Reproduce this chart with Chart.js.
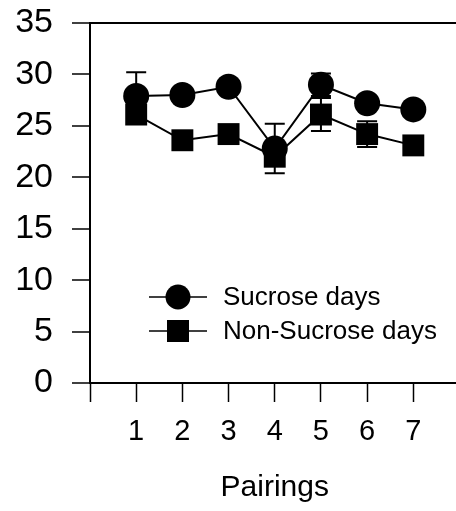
<!DOCTYPE html>
<html>
<head>
<meta charset="utf-8">
<script src="https://cdn.jsdelivr.net/npm/chart.js@4/dist/chart.umd.min.js"></script>
<style>
  html, body { margin: 0; padding: 0; background: #fff; overflow: hidden; }
  #wrap { width: 475px; height: 511px; }
</style>
</head>
<body>
<div id="wrap"><canvas id="chart" width="475" height="511"></canvas></div>
<script>
// --- Datos ---
const pairings = [1, 2, 3, 4, 5, 6, 7];
const sucrose = [27.9, 28.0, 28.8, 22.8, 29.0, 27.2, 26.6];
const nonSucrose = [26.1, 23.6, 24.2, 22.0, 26.1, 24.2, 23.1];
// error estándar (null = oculto bajo el marcador)
const sucroseErr = [2.3, null, null, 2.4, 1.1, null, null];
const nonSucroseErr = [null, null, null, null, 1.6, 1.25, null];
const yTicks = [0, 5, 10, 15, 20, 25, 30, 35];
const legendLabels = ["Sucrose days", "Non-Sucrose days"];

const FONT = "'Liberation Sans', Arial, Helvetica, sans-serif";
const INK = "#000";

const toPoints = vals => vals.map((v, i) => ({ x: pairings[i], y: v }));

// --- Barras de error ---
const errorBars = {
  id: "errorBars",
  beforeDatasetsDraw(chart) {
    const { ctx, scales: { x, y } } = chart;
    const sets = [[sucrose, sucroseErr], [nonSucrose, nonSucroseErr]];
    ctx.save();
    ctx.strokeStyle = INK;
    ctx.lineWidth = 2;
    for (const [vals, errs] of sets) {
      vals.forEach((v, i) => {
        const e = errs[i];
        if (e == null) return;
        const px = x.getPixelForValue(pairings[i]);
        const top = y.getPixelForValue(v + e);
        const bot = y.getPixelForValue(v - e);
        ctx.beginPath();
        ctx.moveTo(px, top); ctx.lineTo(px, bot);
        ctx.moveTo(px - 10, top); ctx.lineTo(px + 10, top);
        ctx.moveTo(px - 10, bot); ctx.lineTo(px + 10, bot);
        ctx.stroke();
      });
    }
    ctx.restore();
  },
};

// --- Leyenda dentro del área ---
const innerLegend = {
  id: "innerLegend",
  afterDatasetsDraw(chart) {
    const { ctx, chartArea } = chart;
    const mx = chartArea.left + 88;
    const rows = [chartArea.top + 274, chartArea.top + 308];
    ctx.save();
    ctx.strokeStyle = INK;
    ctx.fillStyle = INK;
    ctx.lineWidth = 1.5;
    ctx.font = `26px ${FONT}`;
    ctx.textBaseline = "middle";
    rows.forEach((ry, i) => {
      ctx.beginPath();
      ctx.moveTo(mx - 29, ry); ctx.lineTo(mx + 29, ry);
      ctx.stroke();
      if (i === 0) {
        ctx.beginPath();
        ctx.arc(mx, ry, 12.5, 0, Math.PI * 2);
        ctx.fill();
      } else {
        ctx.fillRect(mx - 11, ry - 11, 22, 22);
      }
      ctx.fillText(legendLabels[i], mx + 45, ry + 1);
    });
    ctx.restore();
  },
};

new Chart(document.getElementById("chart"), {
  type: "line",
  data: {
    datasets: [
      {
        label: legendLabels[0],
        data: toPoints(sucrose),
        borderColor: INK,
        borderWidth: 2,
        pointStyle: "circle",
        pointRadius: 13,
        pointBackgroundColor: INK,
        pointBorderWidth: 0,
        tension: 0,
      },
      {
        label: legendLabels[1],
        data: toPoints(nonSucrose),
        borderColor: INK,
        borderWidth: 2,
        pointStyle: "rect",
        pointRadius: 15.5,
        pointBackgroundColor: INK,
        pointBorderWidth: 0,
        tension: 0,
      },
    ],
  },
  options: {
    responsive: false,
    animation: false,
    clip: false,
    events: [],
    layout: { padding: { top: 23, left: 0, right: 3, bottom: 0 } },
    plugins: { legend: { display: false }, tooltip: { enabled: false } },
    scales: {
      x: {
        type: "linear",
        min: 0,
        max: 8,
        afterBuildTicks: s => { s.ticks = [0, ...pairings, 8].map(v => ({ value: v })); },
        afterFit: s => { s.height = 128; s.paddingLeft = 0; s.paddingRight = 0; },
        ticks: {
          color: INK,
          padding: 13,
          font: { family: FONT, size: 29 },
          callback: v => (pairings.includes(v) ? String(v) : ""),
          maxRotation: 0,
        },
        grid: { drawOnChartArea: false, tickLength: 19, tickColor: INK, tickWidth: 1.5 },
        border: { color: INK, width: 2 },
        title: {
          display: true,
          text: "Pairings",
          color: INK,
          font: { family: FONT, size: 30 },
          padding: { top: 0, bottom: 5 },
        },
      },
      y: {
        min: 0,
        max: 35,
        afterBuildTicks: s => { s.ticks = yTicks.map(v => ({ value: v })); },
        afterFit: s => { s.width = 90; s.paddingTop = 0; s.paddingBottom = 0; },
        ticks: {
          color: INK,
          padding: 19,
          font: { family: FONT, size: 34 },
        },
        grid: {
          drawOnChartArea: true,
          color: c => (c.tick && c.tick.value === 35 ? INK : "rgba(0,0,0,0)"),
          lineWidth: 2,
          tickLength: 18,
          tickColor: INK,
          tickWidth: 1.5,
        },
        border: { color: INK, width: 2 },
      },
    },
  },
  plugins: [errorBars, innerLegend],
});
</script>
</body>
</html>
